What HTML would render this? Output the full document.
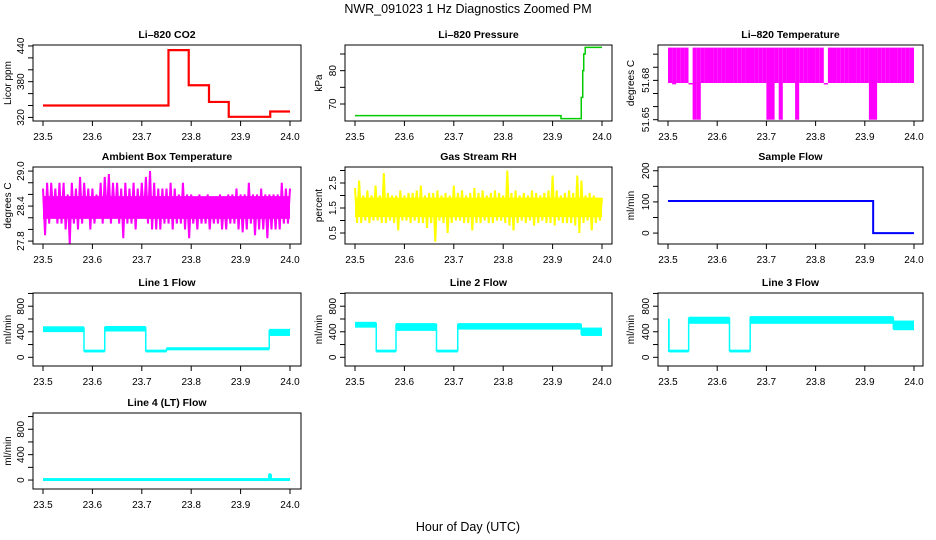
<!DOCTYPE html>
<html><head><meta charset="utf-8">
<style>
html,body{margin:0;padding:0;background:#fff;}
svg{display:block;font-family:"Liberation Sans",Arial,sans-serif;}
</style></head>
<body>
<svg id="chart" width="936" height="540" viewBox="0 0 936 540" xmlns="http://www.w3.org/2000/svg">
<rect x="0" y="0" width="936" height="540" fill="#fff"/>
<text x="468" y="13" text-anchor="middle" font-size="12.5">NWR_091023  1 Hz Diagnostics Zoomed PM</text>
<text x="468" y="531" text-anchor="middle" font-size="12.5">Hour of Day (UTC)</text>
</svg>
<script>
// ---- data ----
const xTicks = [23.5, 23.6, 23.7, 23.8, 23.9, 24.0];
const xTickLabels = ["23.5", "23.6", "23.7", "23.8", "23.9", "24.0"];

const co2Times = [23.5, 23.754, 23.795, 23.836, 23.876, 23.96];
const co2Values = [340, 433, 374, 346, 321, 330];
const pressTimes = [23.5, 23.917, 23.958, 23.961, 23.963, 23.966];
const pressValues = [66.5, 65.6, 72, 80, 85, 87];
const sampleTimes = [23.5, 23.917];
const sampleValues = [103, 0];

const liTempHi = [51.705,51.705,51.705,51.705,51.705,51.678,51.705,51.705,51.705,51.705,51.705,51.705,51.705,51.705,51.705,51.705,51.705,51.705,51.705,51.705,51.705,51.705,51.705,51.705,51.705,51.705,51.705,51.705,51.705,51.705,51.705,51.705,51.705,51.705,51.705,51.705,51.705,51.705,51.678,51.705,51.705,51.705,51.705,51.705,51.705,51.705,51.705,51.705,51.705,51.705,51.705,51.705,51.705,51.705,51.705,51.705,51.705,51.705,51.705,51.705];
const liTempLo = [51.678,51.677,51.678,51.678,51.678,51.678,51.65,51.65,51.678,51.678,51.678,51.678,51.678,51.678,51.678,51.678,51.678,51.678,51.678,51.678,51.678,51.678,51.678,51.678,51.65,51.65,51.678,51.65,51.678,51.678,51.678,51.65,51.678,51.678,51.678,51.678,51.678,51.678,51.678,51.678,51.678,51.678,51.678,51.678,51.678,51.678,51.678,51.678,51.678,51.65,51.65,51.678,51.678,51.678,51.678,51.678,51.678,51.678,51.678,51.678];
const ambHi = [28.7,28.8,28.8,28.7,28.8,28.8,28.6,28.8,28.7,28.9,28.8,28.7,28.7,28.6,28.8,28.9,28.95,28.8,28.8,28.7,28.8,28.7,28.8,28.7,28.8,28.9,29.0,28.8,28.7,28.7,28.7,28.8,28.7,28.6,28.8,28.6,28.6,28.5,28.6,28.5,28.6,28.5,28.5,28.6,28.5,28.6,28.6,28.7,28.6,28.6,28.8,28.6,28.6,28.7,28.6,28.6,28.6,28.6,28.8,28.7];
const ambLo = [27.9,28.1,28.2,28.1,28.1,28.0,27.75,28.1,28.0,28.1,28.2,28.0,28.1,28.2,28.1,28.2,28.1,28.2,28.1,27.85,28.1,28.1,28.0,28.2,28.2,28.1,28.0,28.0,28.0,28.1,28.1,28.0,28.1,28.1,28.0,27.85,28.1,28.0,28.1,28.1,28.0,28.1,28.1,28.0,28.0,28.1,28.1,28.0,27.95,28.0,28.1,27.9,28.0,28.0,27.85,28.0,28.0,28.0,28.1,28.1];
const rhHi = [2.3,2.6,2.0,2.2,2.0,2.4,2.0,2.9,2.1,2.0,2.0,2.2,2.0,2.1,2.1,2.2,2.4,2.0,2.1,2.1,2.2,2.0,2.1,2.0,2.4,2.1,2.2,2.0,2.1,2.3,2.1,2.2,2.0,2.1,2.2,2.1,2.0,3.0,2.1,2.2,2.0,2.1,2.0,2.2,2.1,2.0,2.1,2.2,2.8,2.2,2.0,2.1,2.2,2.1,2.8,2.6,2.0,2.1,2.0,1.9];
const rhLo = [0.9,0.9,1.0,0.9,1.0,1.0,0.9,0.9,1.0,0.9,0.6,1.0,1.0,0.9,1.0,0.9,0.9,0.7,0.9,0.15,1.0,0.9,0.5,0.9,1.0,1.0,0.9,0.9,0.6,0.9,0.9,1.0,0.9,0.9,1.0,1.0,0.9,0.8,0.6,0.9,1.0,0.9,1.0,0.8,0.9,1.0,0.9,0.9,0.8,1.0,0.9,0.9,0.9,0.8,0.5,0.9,1.0,0.6,0.9,1.0];

const line1Start = [23.5, 23.583, 23.625, 23.708, 23.75, 23.958];
const line1End   = [23.583, 23.625, 23.708, 23.75, 23.958, 24.0];
const line1Lo    = [410, 92, 420, 92, 125, 350];
const line1Hi    = [470, 104, 475, 104, 142, 430];
const line2Start = [23.5, 23.543, 23.583, 23.665, 23.708, 23.958];
const line2End   = [23.543, 23.583, 23.665, 23.708, 23.958, 24.0];
const line2Lo    = [480, 92, 430, 92, 450, 350];
const line2Hi    = [540, 104, 520, 104, 520, 450];
const line3Start = [23.5, 23.502, 23.542, 23.625, 23.667, 23.958];
const line3End   = [23.502, 23.542, 23.625, 23.667, 23.958, 24.0];
const line3Lo    = [100, 92, 540, 92, 540, 440];
const line3Hi    = [590, 104, 620, 104, 630, 560];
const line4Start = [23.5, 23.957, 23.962];
const line4End   = [23.957, 23.962, 24.0];
const line4Lo    = [0, 0, 0];
const line4Hi    = [15, 90, 15];

// ---- layout ----
const NS = "http://www.w3.org/2000/svg";
const svg = document.getElementById("chart");
const cols = [{bl:33,br:301,x0:43,x1:290,yt:8},{bl:345,br:612,x0:355,x1:602,yt:319},{bl:658,br:923,x0:668,x1:914,yt:631}];
const rows = [{t:45,b:121},{t:167,b:244},{t:293,b:366},{t:413,b:489}];

function el(tag, attrs, parent){
  const e = document.createElementNS(NS, tag);
  for (const k in attrs) e.setAttribute(k, attrs[k]);
  (parent||svg).appendChild(e);
  return e;
}

function panel(name, title, ylab, r, c, ymin, ymax, yTicks, yLabels){
  const R = rows[r], C = cols[c];
  const g = el("g", {});
  
  
  const xs = v => C.x0 + (v - 23.5) / 0.5 * (C.x1 - C.x0);
  const ys = v => R.b - (v - ymin) / (ymax - ymin) * (R.b - R.t);
  const t = el("text", {x:(C.bl+C.br)/2, y:R.t-7, "text-anchor":"middle", "font-size":"10.5", "font-weight":"bold"}, g);
  t.textContent = title;
  
  
  const yl = el("text", {x:0, y:0, transform:`translate(${C.yt+3},${(R.t+R.b)/2}) rotate(-90)`, "text-anchor":"middle", "font-size":"10"}, g);
  yl.textContent = ylab;
  
  
  const plot = el("g", {}, g);
  
  
  const box = el("rect", {x:C.bl, y:R.t, width:C.br-C.bl, height:R.b-R.t, fill:"none", stroke:"#000", "stroke-width":"1"}, g);
  
  
  const xa = el("g", {}, g);
  
  
  xTicks.forEach((v, i) => {
    el("line", {x1:xs(v), x2:xs(v), y1:R.b, y2:R.b+5, stroke:"#000"}, xa);
    const tl = el("text", {x:xs(v), y:R.b+19, "text-anchor":"middle", "font-size":"10"}, xa);
    tl.textContent = xTickLabels[i];
  });
  const ya = el("g", {}, g);
  
  
  yTicks.forEach(v => {
    el("line", {x1:C.bl-5, x2:C.bl, y1:ys(v), y2:ys(v), stroke:"#000"}, ya);
  });
  yLabels.forEach(v => {
    const tl = el("text", {x:0, y:0, transform:`translate(${C.bl-9},${ys(v)}) rotate(-90)`, "text-anchor":"middle", "font-size":"10"}, ya);
    tl.textContent = String(v);
  });
  return {plot, xs, ys};
}

function stepLine(p, times, vals, color, w){
  let d = "";
  for (let i = 0; i < times.length; i++){
    const x0 = p.xs(times[i]);
    const x1 = p.xs(i + 1 < times.length ? times[i+1] : 24.0);
    const y = p.ys(vals[i]);
    d += (i === 0 ? "M" : "L") + x0 + "," + y + "L" + x1 + "," + y;
  }
  const e = el("path", {d, fill:"none", stroke:color, "stroke-width":w}, p.plot);
  
  
}

function bins(p, hi, lo, color){
  const n = hi.length, bw = 0.5 / n;
  for (let i = 0; i < n; i++){
    const x0 = p.xs(23.5 + i*bw), x1 = p.xs(23.5 + (i+1)*bw);
    const yt = p.ys(hi[i]), yb = p.ys(lo[i]);
    const r = el("rect", {x:x0, y:yt, width:Math.max(x1-x0,1), height:Math.max(yb-yt,1.5), fill:color}, p.plot);
    
    
  }
}

function zigzag(p, hi, lo, color){
  const n = hi.length, bw = 0.5 / n;
  const mean = a => a.reduce((s, v) => s + v, 0) / a.length;
  const mHi = mean(hi), mLo = mean(lo), span = mHi - mLo;
  const cHi = mHi - 0.2*span, cLo = mLo + 0.2*span;
  const core = el("rect", {x:p.xs(23.5), y:p.ys(cHi), width:p.xs(24.0)-p.xs(23.5), height:p.ys(cLo)-p.ys(cHi), fill:color}, p.plot);
  
  
  let d = "";
  for (let i = 0; i < n; i++){
    const t0 = 23.5 + i*bw;
    d += (i === 0 ? "M" : "L") + p.xs(t0) + "," + p.ys(hi[i]);
    d += "L" + p.xs(t0 + bw*0.5) + "," + p.ys(lo[i]);
  }
  d += "L" + p.xs(24.0) + "," + p.ys(hi[n-1]);
  const e = el("path", {d, fill:"none", stroke:color, "stroke-width":"2", "stroke-linejoin":"miter", "stroke-miterlimit":"2"}, p.plot);
  
  
}

function segs(p, st, en, lo, hi, color){
  let prev = null;
  for (let i = 0; i < st.length; i++){
    const x0 = p.xs(st[i]), x1 = p.xs(en[i]);
    const yt = p.ys(hi[i]), yb = p.ys(lo[i]);
    const r = el("rect", {x:x0, y:yt-1, width:Math.max(x1-x0,1.5), height:yb-yt+2, fill:color}, p.plot);
    
    
    if (prev){
      const c = el("line", {x1:x0, x2:x0, y1:Math.min(prev.yt, yt), y2:Math.max(prev.yb, yb), stroke:color, "stroke-width":"1.5"}, p.plot);
      
      
    }
    prev = {yt, yb};
  }
}

let p;
p = panel("co2", "Li\u2013820 CO2", "Licor ppm", 0, 0, 314, 441.6, [320,340,360,380,400,420,440], [320,380,440]);
stepLine(p, co2Times, co2Values, "#ff0000", 2.2);
p = panel("pressure", "Li\u2013820 Pressure", "kPa", 0, 1, 64.9, 87.7, [70,75,80,85], [70,80]);
stepLine(p, pressTimes, pressValues, "#00cc00", 1.5);
p = panel("li820-temp", "Li\u2013820 Temperature", "degrees C", 0, 2, 51.649, 51.707, [51.65,51.66,51.67,51.68,51.69,51.70], ["51.65","51.68"]);
bins(p, liTempHi, liTempLo, "#ff00ff");
p = panel("ambient-temp", "Ambient Box Temperature", "degrees C", 1, 0, 27.75, 29.07, [27.8,28.0,28.2,28.4,28.6,28.8,29.0], ["27.8","28.4","29.0"]);
zigzag(p, ambHi, ambLo, "#ff00ff");
p = panel("gas-rh", "Gas Stream RH", "percent", 1, 1, 0.06, 3.14, [0.5,1.0,1.5,2.0,2.5,3.0], ["0.5","1.5","2.5"]);
zigzag(p, rhHi, rhLo, "#ffff00");
p = panel("sample-flow", "Sample Flow", "ml/min", 1, 2, -35, 212, [0,50,100,150,200], [0,100,200]);
stepLine(p, sampleTimes, sampleValues, "#0000ff", 2);
p = panel("line1-flow", "Line 1 Flow", "ml/min", 2, 0, -136, 1007, [0,200,400,600,800,1000], [0,400,800]);
segs(p, line1Start, line1End, line1Lo, line1Hi, "#00ffff");
p = panel("line2-flow", "Line 2 Flow", "ml/min", 2, 1, -136, 1007, [0,200,400,600,800,1000], [0,400,800]);
segs(p, line2Start, line2End, line2Lo, line2Hi, "#00ffff");
p = panel("line3-flow", "Line 3 Flow", "ml/min", 2, 2, -136, 1007, [0,200,400,600,800,1000], [0,400,800]);
segs(p, line3Start, line3End, line3Lo, line3Hi, "#00ffff");
p = panel("line4-flow", "Line 4 (LT) Flow", "ml/min", 3, 0, -141, 1056, [0,200,400,600,800,1000], [0,400,800]);
segs(p, line4Start, line4End, line4Lo, line4Hi, "#00ffff");
</script>
</body></html>
